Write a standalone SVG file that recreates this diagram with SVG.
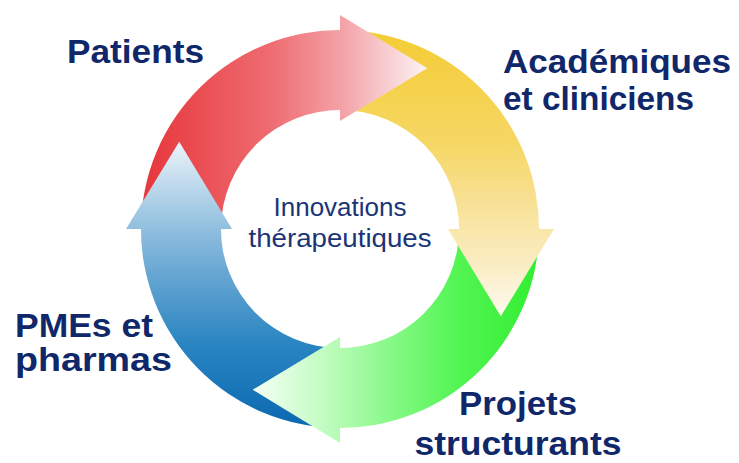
<svg xmlns="http://www.w3.org/2000/svg" width="739" height="463" viewBox="0 0 739 463">
  <defs>
    <!-- one gradient per quarter, in user space so body and head blend seamlessly -->
    <linearGradient id="gRed" gradientUnits="userSpaceOnUse" x1="140" y1="0" x2="430" y2="0">
      <stop offset="0" stop-color="#E6353A"/>
      <stop offset="0.45" stop-color="#EE6C71"/>
      <stop offset="0.7" stop-color="#F3A3A8"/>
      <stop offset="1" stop-color="#FDF6F7"/>
    </linearGradient>
    <linearGradient id="gYellow" gradientUnits="userSpaceOnUse" x1="0" y1="30" x2="0" y2="318">
      <stop offset="0" stop-color="#F4CC35"/>
      <stop offset="0.4" stop-color="#F6D765"/>
      <stop offset="0.6" stop-color="#F8E196"/>
      <stop offset="0.8" stop-color="#FAECC0"/>
      <stop offset="1" stop-color="#FEFAF1"/>
    </linearGradient>
    <linearGradient id="gGreen" gradientUnits="userSpaceOnUse" x1="541" y1="0" x2="252" y2="0">
      <stop offset="0" stop-color="#30EE30"/>
      <stop offset="0.3" stop-color="#55F555"/>
      <stop offset="0.55" stop-color="#8EF98E"/>
      <stop offset="0.75" stop-color="#C2FCC2"/>
      <stop offset="1" stop-color="#F6FFF6"/>
    </linearGradient>
    <linearGradient id="gBlue" gradientUnits="userSpaceOnUse" x1="0" y1="430" x2="0" y2="140">
      <stop offset="0" stop-color="#0A68B0"/>
      <stop offset="0.3" stop-color="#2A85C2"/>
      <stop offset="0.55" stop-color="#6AA8D3"/>
      <stop offset="0.7" stop-color="#92C0DF"/>
      <stop offset="1" stop-color="#EEF5FA"/>
    </linearGradient>
  </defs>
  <style>
    .lbl { font-family: "Liberation Sans", Arial, sans-serif; font-weight: bold; font-size: 33px; fill: #10276A; }
    .ctr { font-family: "Liberation Sans", Arial, sans-serif; font-size: 25px; fill: #1B3577; }
  </style>

  <rect width="739" height="463" fill="#FFFFFF"/>

  <!-- cycle: ring bodies first, then the four heads on top -->
  <g id="connectors">
    <path id="body-red" fill="url(#gRed)" d="M141,229 A199,199 0 0 1 343.5,30 L342.1,110 A119,119 0 0 0 221,229 Z"/>
    <path id="body-yellow" fill="url(#gYellow)" d="M340,30 A199,199 0 0 1 539,232.5 L459,231.1 A119,119 0 0 0 340,110 Z"/>
    <path id="body-green" fill="url(#gGreen)" d="M539,229 A199,199 0 0 1 336.5,428 L337.9,348 A119,119 0 0 0 459,229 Z"/>
    <path id="body-blue" fill="url(#gBlue)" d="M340,428 A199,199 0 0 1 141,225.5 L221,226.9 A119,119 0 0 0 340,348 Z"/>
    <path id="head-red" fill="url(#gRed)" d="M340,15 L427.3,68.2 L340,121 Z"/>
    <path id="head-yellow" fill="url(#gYellow)" d="M554,229 L500.8,316.3 L448,229 Z"/>
    <path id="head-green" fill="url(#gGreen)" d="M340,443 L252.7,389.8 L340,337 Z"/>
    <path id="head-blue" fill="url(#gBlue)" d="M126,229 L179.2,141.7 L232,229 Z"/>
  </g>

  <g id="node-centre">
    <text class="ctr" x="340" y="216" text-anchor="middle" textLength="133" lengthAdjust="spacingAndGlyphs">Innovations</text>
    <text class="ctr" x="340" y="247" text-anchor="middle" textLength="183" lengthAdjust="spacingAndGlyphs">thérapeutiques</text>
  </g>

  <g id="node-patients">
    <text class="lbl" x="67" y="63" textLength="137" lengthAdjust="spacingAndGlyphs">Patients</text>
  </g>

  <g id="node-academiques">
    <text class="lbl" x="503" y="73" textLength="228" lengthAdjust="spacingAndGlyphs">Académiques</text>
    <text class="lbl" x="503" y="110" textLength="191" lengthAdjust="spacingAndGlyphs">et cliniciens</text>
  </g>

  <g id="node-projets">
    <text class="lbl" x="518" y="415" text-anchor="middle" textLength="118" lengthAdjust="spacingAndGlyphs">Projets</text>
    <text class="lbl" x="518" y="455" text-anchor="middle" textLength="207" lengthAdjust="spacingAndGlyphs">structurants</text>
  </g>

  <g id="node-pmes">
    <text class="lbl" x="15" y="337" textLength="138" lengthAdjust="spacingAndGlyphs">PMEs et</text>
    <text class="lbl" x="15" y="371" textLength="157" lengthAdjust="spacingAndGlyphs">pharmas</text>
  </g>
</svg>
